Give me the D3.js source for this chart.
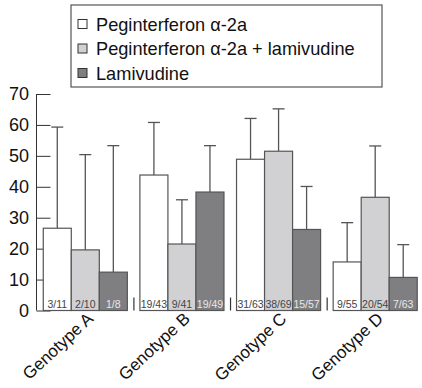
<!DOCTYPE html>
<html>
<head>
<meta charset="utf-8">
<script src="https://cdn.jsdelivr.net/npm/d3@7"></script>
<style>
  body { margin: 0; background: #fff; }
  text { font-family: "Liberation Sans", Arial, sans-serif; }
</style>
</head>
<body>
<div id="chart"></div>
<script>
const genotypes = ['Genotype A', 'Genotype B', 'Genotype C', 'Genotype D'];
const series = ['Peginterferon \u03b1-2a', 'Peginterferon \u03b1-2a + lamivudine', 'Lamivudine'];
const colors = ['#ffffff', '#d1d1d3', '#7f7f82'];
// bar heights (%) per genotype, in series order
const values = [
  [26.6, 19.6, 12.4],
  [43.8, 21.5, 38.3],
  [48.9, 51.5, 26.2],
  [15.7, 36.6, 10.7]
];
// top of error bar
const upper = [
  [59.3, 50.4, 53.3],
  [60.8, 35.8, 53.3],
  [62.1, 65.2, 40.1],
  [28.4, 53.2, 21.3]
];
const counts = [
  ['3/11', '2/10', '1/8'],
  ['19/43', '9/41', '19/49'],
  ['31/63', '38/69', '15/57'],
  ['9/55', '20/54', '7/63']
];
const yTicks = [0, 10, 20, 30, 40, 50, 60, 70];

const width = 422, height = 388;
const svg = d3.select('#chart').append('svg').attr('width', width).attr('height', height);

const y = d3.scaleLinear().domain([0, 70]).range([310.5, 94]);
const x0 = d3.scaleBand().domain(genotypes).range([36.5, 424]).paddingInner(0.13).paddingOuter(0.07);
const x1 = d3.scaleBand().domain(d3.range(3)).range([0, x0.bandwidth()]);

// y axis
const yAxis = svg.append('g').attr('transform', 'translate(36.5,0)')
  .call(d3.axisRight(y).tickValues(yTicks).tickSize(14).tickFormat(''));
yAxis.select('.domain').attr('stroke', '#333').attr('d', `M0,${y(70)}V${y(0)}`);
yAxis.selectAll('.tick line').attr('stroke', '#333');
svg.append('g').selectAll('text').data(yTicks).join('text')
  .attr('x', 29).attr('y', d => y(d)).attr('dy', '0.36em')
  .attr('text-anchor', 'end').attr('font-size', 18).attr('fill', '#111')
  .text(d => d);

// group separators
svg.append('g').selectAll('line').data(genotypes.slice(1)).join('line')
  .attr('x1', d => x0(d) - 6).attr('x2', d => x0(d) - 6)
  .attr('y1', y(0) - 13).attr('y2', y(0))
  .attr('stroke', '#333').attr('stroke-width', 1.2);

const groups = svg.append('g').selectAll('g').data(genotypes).join('g')
  .attr('transform', d => `translate(${x0(d)},0)`);

// error bars
groups.each(function(g, gi) {
  const sel = d3.select(this);
  d3.range(3).forEach(i => {
    const cx = x1(i) + x1.bandwidth() / 2;
    sel.append('line').attr('x1', cx).attr('x2', cx)
      .attr('y1', y(values[gi][i])).attr('y2', y(upper[gi][i]))
      .attr('stroke', '#555').attr('stroke-width', 1.3);
    sel.append('line').attr('x1', cx - 6).attr('x2', cx + 6)
      .attr('y1', y(upper[gi][i])).attr('y2', y(upper[gi][i]))
      .attr('stroke', '#555').attr('stroke-width', 1.3);
  });
  sel.selectAll('rect').data(values[gi]).join('rect')
    .attr('x', (d, i) => x1(i)).attr('width', x1.bandwidth())
    .attr('y', d => y(d)).attr('height', d => y(0) - y(d))
    .attr('fill', (d, i) => colors[i]).attr('stroke', '#555').attr('stroke-width', 1.2);
  sel.selectAll('text.n').data(counts[gi]).join('text').attr('class', 'n')
    .attr('x', (d, i) => x1(i) + x1.bandwidth() / 2).attr('y', y(0) - 3)
    .attr('text-anchor', 'middle').attr('font-size', 10.5)
    .attr('fill', (d, i) => i === 2 ? '#e8e8e8' : '#444')
    .text(d => d);
});

// x labels
svg.append('g').selectAll('text').data(genotypes).join('text')
  .attr('transform', d => `translate(${x0(d) + x0.bandwidth() / 2 + 9},320) rotate(-43)`)
  .attr('text-anchor', 'end').attr('font-size', 17).attr('fill', '#111')
  .text(d => d);

// legend
const legend = svg.append('g');
legend.append('rect').attr('x', 71).attr('y', 5).attr('width', 311).attr('height', 82)
  .attr('fill', '#fff').attr('stroke', '#555').attr('stroke-width', 1.2);
const items = legend.selectAll('g').data(series).join('g')
  .attr('transform', (d, i) => `translate(78,${24 + i * 24.5})`);
items.append('rect').attr('x', 0).attr('y', -4.5).attr('width', 9).attr('height', 9)
  .attr('fill', (d, i) => colors[i]).attr('stroke', '#333').attr('stroke-width', 1);
items.append('text').attr('x', 18).attr('dy', '0.36em').attr('font-size', 18.2).attr('fill', '#111')
  .text(d => d);
</script>
</body>
</html>
